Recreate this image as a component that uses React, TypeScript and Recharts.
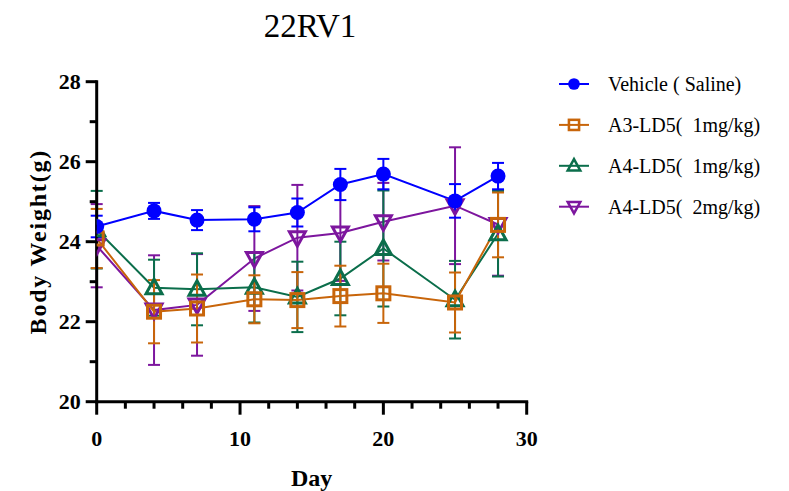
import React from 'react';
import { LineChart, Line, XAxis, YAxis, ErrorBar, Legend } from 'recharts';

const days = [0, 4, 7, 11, 14, 17, 20, 25, 28];
const vehicleMean = [24.38, 24.77, 24.54, 24.56, 24.73, 25.43, 25.69, 25.02, 25.64];
const vehicleSd = [0.27, 0.2, 0.25, 0.3, 0.35, 0.39, 0.38, 0.42, 0.33];
const a3Mean = [24.08, 22.25, 22.33, 22.56, 22.54, 22.64, 22.71, 22.48, 24.42];
const a3Sd = [0.74, 0.79, 0.85, 0.6, 0.7, 0.76, 0.74, 0.75, 0.81];
const a4Mean = [24.3, 22.85, 22.81, 22.86, 22.62, 23.08, 23.83, 22.55, 24.2];
const a4Sd = [0.97, 0.7, 0.9, 0.88, 0.88, 0.92, 1.45, 0.97, 1.07];
const a42Mean = [23.9, 22.29, 22.42, 23.58, 24.1, 24.22, 24.5, 24.9, 24.43];
const a42Sd = [1.04, 1.37, 1.27, 1.31, 1.32, 1.2, 0.97, 1.46, 1.28];

const xTicks = [0, 2, 4, 6, 8, 10, 12, 14, 16, 18, 20, 22, 24, 26, 28, 30];
const yTicks = [20, 21, 22, 23, 24, 25, 26, 27, 28];

const seriesNames = [
  'Vehicle ( Saline)',
  'A3-LD5(\u00A0\u00A01mg/kg)',
  'A4-LD5(\u00A0\u00A01mg/kg)',
  'A4-LD5(\u00A0\u00A02mg/kg)',
];

const BLUE = '#0000FF';
const ORANGE = '#C8650A';
const GREEN = '#0B6E4B';
const PURPLE = '#7D169E';
const FONT = '"Liberation Serif", "Times New Roman", serif';

const data = days.map((d, i) => ({
  day: d,
  v: vehicleMean[i], vErr: vehicleSd[i],
  a3: a3Mean[i], a3Err: a3Sd[i],
  a4: a4Mean[i], a4Err: a4Sd[i],
  a42: a42Mean[i], a42Err: a42Sd[i],
}));

const Marker = ({ shape, cx, cy, color, s }: any) => {
  if (cx == null || cy == null) return null;
  if (shape === 'circle') return <circle cx={cx} cy={cy} r={7.5 * s} fill={color} />;
  if (shape === 'square') {
    const h = 6.5 * s;
    return <rect x={cx - h} y={cy - h} width={2 * h} height={2 * h} fill="none" stroke={color} strokeWidth={3 * Math.max(s, 0.85)} />;
  }
  if (shape === 'up') {
    const pts = `${cx},${cy - 8.5 * s} ${cx - 8 * s},${cy + 6 * s} ${cx + 8 * s},${cy + 6 * s}`;
    return <polygon points={pts} fill="none" stroke={color} strokeWidth={3 * Math.max(s, 0.85)} strokeLinejoin="miter" />;
  }
  const pts = `${cx},${cy + 8.5 * s} ${cx - 8 * s},${cy - 6 * s} ${cx + 8 * s},${cy - 6 * s}`;
  return <polygon points={pts} fill="none" stroke={color} strokeWidth={3 * Math.max(s, 0.85)} strokeLinejoin="miter" />;
};

const makeDot = (shape: string, color: string) => (p: any) => (
  <Marker key={`${shape}-${p.index}`} shape={shape} cx={p.cx} cy={p.cy} color={color} s={1} />
);

const XTick = (p: any) => {
  const { x, y, payload } = p;
  const major = payload.value % 10 === 0;
  return (
    <g>
      <line x1={x} x2={x} y1={y} y2={y + (major ? 13 : 7)} stroke="#000" strokeWidth={3} />
      {major && (
        <text x={x} y={y + 44} textAnchor="middle" fontSize={22} fontWeight="bold" fontFamily={FONT} fill="#000">
          {payload.value}
        </text>
      )}
    </g>
  );
};

const YTick = (p: any) => {
  const { x, y, payload } = p;
  const major = payload.value % 2 === 0;
  return (
    <g>
      <line x1={x - (major ? 11 : 7)} x2={x} y1={y} y2={y} stroke="#000" strokeWidth={3} />
      {major && (
        <text x={x - 16} y={y + 7.5} textAnchor="end" fontSize={22} fontWeight="bold" fontFamily={FONT} fill="#000">
          {payload.value}
        </text>
      )}
    </g>
  );
};

const YLabel = (p: any) => {
  const vb = p.viewBox || { x: 36.7, y: 81.7, width: 60, height: 320 };
  const cx = 38;
  const cy = vb.y + vb.height / 2;
  return (
    <text x={cx} y={cy} transform={`rotate(-90 ${cx} ${cy})`} textAnchor="middle" dominantBaseline="central"
      fontSize={24} fontWeight="bold" fontFamily={FONT} letterSpacing={1.8} fill="#000">
      Body Weight(g)
    </text>
  );
};

const XLabel = (p: any) => {
  const vb = p.viewBox || { x: 96.7, y: 401.7, width: 430, height: 60 };
  const cx = vb.x + vb.width / 2;
  return (
    <text x={cx} y={486} textAnchor="middle" fontSize={24} fontWeight="bold" fontFamily={FONT} fill="#000">
      Day
    </text>
  );
};

const legendRows = [
  { name: seriesNames[0], color: BLUE, shape: 'circle' },
  { name: seriesNames[1], color: ORANGE, shape: 'square' },
  { name: seriesNames[2], color: GREEN, shape: 'up' },
  { name: seriesNames[3], color: PURPLE, shape: 'down' },
];

const renderLegend = () => (
  <svg width={249} height={170} style={{ display: 'block' }}>
    {legendRows.map((r, i) => {
      const cy = 24 + i * 40.9;
      return (
        <g key={r.name}>
          <line x1={19} x2={49} y1={cy} y2={cy} stroke={r.color} strokeWidth={2} />
          <Marker shape={r.shape} cx={34} cy={cy} color={r.color} s={0.78} />
          <text x={68} y={cy + 7} fontSize={20} fontFamily={FONT} fill="#000">{r.name}</text>
        </g>
      );
    })}
  </svg>
);

export default function App() {
  return (
    <div style={{ position: 'absolute', left: 0, top: 0, width: 789, height: 491, background: '#fff' }}>
      <div style={{ position: 'absolute', left: 0, top: 6, width: 620, textAlign: 'center', fontFamily: FONT, fontSize: 33, color: '#000', lineHeight: '40px' }}>
        22RV1
      </div>
      <LineChart width={789} height={491} data={data}
        margin={{ top: 81.7, right: 262.3, bottom: 29.3, left: 36.7 }}>
        <XAxis type="number" dataKey="day" domain={[0, 30]} ticks={xTicks} interval={0}
          tickSize={0} tickMargin={0} tickLine={false} height={60}
          axisLine={{ stroke: '#000', strokeWidth: 3, strokeLinecap: 'square' }}
          tick={<XTick />} label={<XLabel />} allowDataOverflow />
        <YAxis type="number" domain={[20, 28]} ticks={yTicks} interval={0}
          tickSize={0} tickMargin={0} tickLine={false} width={60}
          axisLine={{ stroke: '#000', strokeWidth: 3, strokeLinecap: 'square' }}
          tick={<YTick />} label={<YLabel />} allowDataOverflow />
        <Legend layout="vertical" align="center" verticalAlign="middle" content={renderLegend}
          wrapperStyle={{ left: 540, top: 60, width: 249, height: 170 }} />
        <Line dataKey="a42" name={seriesNames[3]} stroke={PURPLE} strokeWidth={2} isAnimationActive={false}
          dot={makeDot('down', PURPLE)} activeDot={false}>
          <ErrorBar dataKey="a42Err" direction="y" width={6} stroke={PURPLE} strokeWidth={2} isAnimationActive={false} />
        </Line>
        <Line dataKey="a4" name={seriesNames[2]} stroke={GREEN} strokeWidth={2} isAnimationActive={false}
          dot={makeDot('up', GREEN)} activeDot={false}>
          <ErrorBar dataKey="a4Err" direction="y" width={6} stroke={GREEN} strokeWidth={2} isAnimationActive={false} />
        </Line>
        <Line dataKey="a3" name={seriesNames[1]} stroke={ORANGE} strokeWidth={2} isAnimationActive={false}
          dot={makeDot('square', ORANGE)} activeDot={false}>
          <ErrorBar dataKey="a3Err" direction="y" width={6} stroke={ORANGE} strokeWidth={2} isAnimationActive={false} />
        </Line>
        <Line dataKey="v" name={seriesNames[0]} stroke={BLUE} strokeWidth={2} isAnimationActive={false}
          dot={makeDot('circle', BLUE)} activeDot={false}>
          <ErrorBar dataKey="vErr" direction="y" width={6} stroke={BLUE} strokeWidth={2} isAnimationActive={false} />
        </Line>
      </LineChart>
    </div>
  );
}
